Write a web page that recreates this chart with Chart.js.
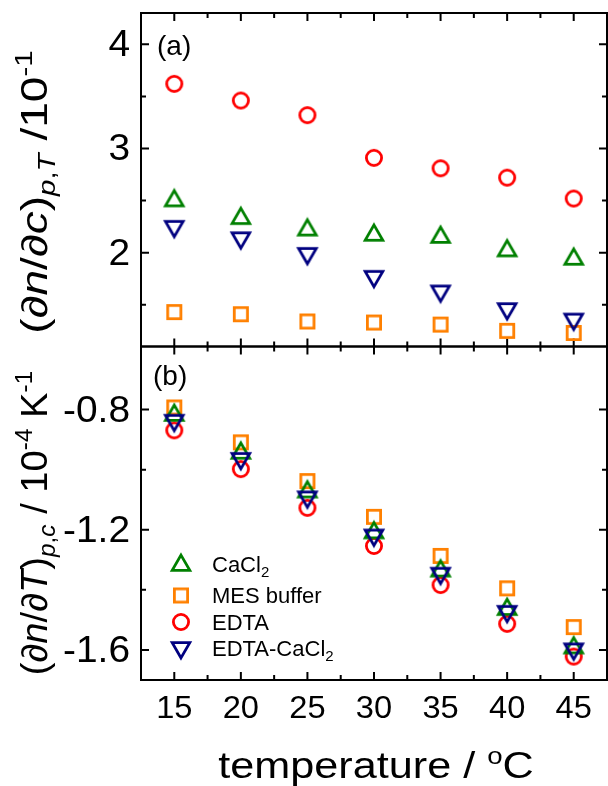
<!DOCTYPE html>
<html>
<head>
<meta charset="utf-8">
<script src="https://cdn.jsdelivr.net/npm/chart.js@4.4.0/dist/chart.umd.min.js"></script>
<style>
  html, body { margin: 0; padding: 0; background: #fff; }
  #wrap { position: relative; width: 608px; height: 786px; }
</style>
</head>
<body>
<div id="wrap"><canvas id="chart" width="608" height="786"></canvas></div>
<script>
// temperatures in degrees C
const temperatures = [15, 20, 25, 30, 35, 40, 45];

// (dn/dc)_{p,T} in units of 10^-1
const dcCaCl2 = [2.53, 2.36, 2.25, 2.20, 2.18, 2.05, 1.97];
const dcMes = [1.43, 1.41, 1.34, 1.33, 1.31, 1.25, 1.23];
const dcEdta = [3.62, 3.46, 3.32, 2.91, 2.81, 2.72, 2.52];
const dcEdtaCa = [2.22, 2.11, 1.96, 1.74, 1.60, 1.43, 1.33];

// (dn/dT)_{p,c} in units of 10^-4 K^-1
const dtCaCl2 = [-0.808, -0.934, -1.063, -1.199, -1.326, -1.454, -1.582];
const dtMes = [-0.793, -0.909, -1.038, -1.157, -1.287, -1.395, -1.524];
const dtEdta = [-0.869, -0.998, -1.127, -1.254, -1.384, -1.513, -1.622];
const dtEdtaCa = [-0.847, -0.974, -1.102, -1.229, -1.356, -1.483, -1.608];

// ticks
const xMajor = [15, 20, 25, 30, 35, 40, 45];
const xMinor = [17.5, 22.5, 27.5, 32.5, 37.5, 42.5];
const dcMajor = [2, 3, 4];
const dcMinor = [1.5, 2.5, 3.5];
const dtMajor = [-0.8, -1.2, -1.6];
const dtMinor = [-1.0, -1.4];
const dcLabels = ['2', '3', '4'];
const dtLabels = ['-0.8', '-1.2', '-1.6'];

const FONT = '"Liberation Sans", Arial, sans-serif';
const RED = '#ff0000', GREEN = '#008000', ORANGE = '#ff8000', NAVY = '#000080';

// hollow marker sprites, centred on their bounding box
function makeMarker(kind, color) {
  const size = 28, m = size / 2, lw = 2.8;
  const c = document.createElement('canvas');
  c.width = c.height = size;
  const g = c.getContext('2d');
  g.strokeStyle = color;
  g.lineWidth = lw;
  g.lineJoin = 'miter';
  g.beginPath();
  if (kind === 'circle') {
    g.arc(m, m, 7.6, 0, Math.PI * 2);
  } else if (kind === 'square') {
    g.rect(m - 6.6, m - 6.6, 13.2, 13.2);
  } else {
    const w = 17.6, h = 15.2;
    if (kind === 'up') {
      const top = m - h / 2 + lw / 4;
      g.moveTo(m, top);
      g.lineTo(m + w / 2, top + h);
      g.lineTo(m - w / 2, top + h);
    } else {
      const bot = m + h / 2 - lw / 4;
      g.moveTo(m, bot);
      g.lineTo(m + w / 2, bot - h);
      g.lineTo(m - w / 2, bot - h);
    }
    g.closePath();
  }
  g.stroke();
  return c;
}

const mkUp = makeMarker('up', GREEN);
const mkSquare = makeMarker('square', ORANGE);
const mkCircle = makeMarker('circle', RED);
const mkDown = makeMarker('down', NAVY);

function points(ys) {
  return temperatures.map((t, i) => ({ x: t, y: ys[i] }));
}

// sprite markers ignore the radius; keep it small so it adds no layout padding
function series(label, ys, axis, marker, order) {
  return {
    label: label,
    data: points(ys),
    yAxisID: axis,
    pointStyle: marker,
    pointRadius: 1,
    pointHoverRadius: 1,
    pointBorderWidth: 0,
    showLine: false,
    clip: false,
    order: order
  };
}

function fontOf(size, italic) {
  return (italic ? 'italic ' : '') + size + 'px ' + FONT;
}

// draws a run of text pieces (sub/superscripts, italics) as one line
function drawRich(ctx, parts, x, y, align, rotate, sx) {
  ctx.save();
  ctx.translate(x, y);
  if (rotate) ctx.rotate(rotate);
  ctx.scale(sx || 1, 1);
  ctx.textAlign = 'left';
  ctx.textBaseline = 'alphabetic';
  ctx.fillStyle = '#000';
  let w = 0;
  parts.forEach(p => {
    ctx.font = fontOf(p.s, p.i);
    w += ctx.measureText(p.t).width;
  });
  let cx = align === 'center' ? -w / 2 : align === 'right' ? -w : 0;
  parts.forEach(p => {
    ctx.font = fontOf(p.s, p.i);
    ctx.fillText(p.t, cx, p.dy || 0);
    cx += ctx.measureText(p.t).width;
  });
  ctx.restore();
}

const panelFrames = {
  id: 'panelFrames',
  beforeDatasetsDraw(chart) {
    const ctx = chart.ctx;
    const x = chart.scales.x;
    const panels = [[chart.scales.yDc, dcMajor, dcMinor], [chart.scales.yDt, dtMajor, dtMinor]];
    ctx.save();
    ctx.strokeStyle = '#000';
    ctx.lineWidth = 2;
    panels.forEach(([y, major, minor]) => {
      const L = x.left, R = x.right, T = y.top, B = y.bottom;
      ctx.strokeRect(L, T, R - L, B - T);
      ctx.beginPath();
      const xt = (v, len) => {
        const px = x.getPixelForValue(v);
        ctx.moveTo(px, T); ctx.lineTo(px, T + len);
        ctx.moveTo(px, B); ctx.lineTo(px, B - len);
      };
      const yt = (v, len) => {
        const py = y.getPixelForValue(v);
        ctx.moveTo(L, py); ctx.lineTo(L + len, py);
        ctx.moveTo(R, py); ctx.lineTo(R - len, py);
      };
      xMajor.forEach(v => xt(v, 8));
      xMinor.forEach(v => xt(v, 5));
      major.forEach(v => yt(v, 8));
      minor.forEach(v => yt(v, 5));
      ctx.stroke();
    });
    ctx.restore();
  },
  afterDraw(chart) {
    const ctx = chart.ctx;
    const x = chart.scales.x, yDc = chart.scales.yDc, yDt = chart.scales.yDt;

    // tick labels
    dcMajor.forEach((v, i) => {
      drawRich(ctx, [{ t: dcLabels[i], s: 36 }], 130, yDc.getPixelForValue(v) + 12, 'right', 0, 1.08);
    });
    dtMajor.forEach((v, i) => {
      drawRich(ctx, [{ t: dtLabels[i], s: 36 }], 130, yDt.getPixelForValue(v) + 12, 'right', 0, 1.08);
    });
    xMajor.forEach(v => {
      drawRich(ctx, [{ t: String(v), s: 32 }], x.getPixelForValue(v), 718, 'center', 0, 1.02);
    });

    // axis titles
    drawRich(ctx, [
      { t: '(\u2202', s: 36 }, { t: 'n', s: 36, i: true }, { t: '/\u2202', s: 36 }, { t: 'c', s: 36, i: true }, { t: ')', s: 36 },
      { t: 'p', s: 23, i: true, dy: 8 }, { t: ',', s: 23, dy: 8 }, { t: 'T', s: 23, i: true, dy: 8 },
      { t: ' /10', s: 36 }, { t: '-1', s: 23, dy: -15 }
    ], 47, 192, 'center', -Math.PI / 2, 1.28);
    drawRich(ctx, [
      { t: '(\u2202', s: 36 }, { t: 'n', s: 36, i: true }, { t: '/\u2202', s: 36 }, { t: 'T', s: 36, i: true }, { t: ')', s: 36 },
      { t: 'p', s: 23, i: true, dy: 8 }, { t: ',', s: 23, dy: 8 }, { t: 'c', s: 23, i: true, dy: 8 },
      { t: ' / 10', s: 36 }, { t: '-4', s: 23, dy: -15 }, { t: ' K', s: 36 }, { t: '-1', s: 23, dy: -15 }
    ], 47, 523, 'center', -Math.PI / 2, 1.06);
    drawRich(ctx, [
      { t: 'temperature / ', s: 36 }, { t: 'o', s: 23, dy: -14 }, { t: 'C', s: 36 }
    ], 376, 778, 'center', 0, 1.2);

    // panel letters
    drawRich(ctx, [{ t: '(a)', s: 28 }], 157, 55, 'left', 0, 1);
    drawRich(ctx, [{ t: '(b)', s: 28 }], 153, 385, 'left', 0, 1);

    // legend
    const rows = [
      [mkUp, 562, [{ t: 'CaCl', s: 22 }, { t: '2', s: 15, dy: 5 }], 572],
      [mkSquare, 595.5, [{ t: 'MES buffer', s: 22 }], 603],
      [mkCircle, 622, [{ t: 'EDTA', s: 22 }], 629.5],
      [mkDown, 651, [{ t: 'EDTA-CaCl', s: 22 }, { t: '2', s: 15, dy: 5 }], 655.5]
    ];
    rows.forEach(([mk, cy, parts, base]) => {
      ctx.drawImage(mk, 181 - mk.width / 2, cy - mk.height / 2);
      drawRich(ctx, parts, 212, base, 'left', 0, 1);
    });
  }
};

new Chart(document.getElementById('chart'), {
  type: 'scatter',
  data: {
    datasets: [
      series('EDTA-CaCl2', dcEdtaCa, 'yDc', mkDown, 0),
      series('CaCl2', dcCaCl2, 'yDc', mkUp, 1),
      series('EDTA', dcEdta, 'yDc', mkCircle, 2),
      series('MES buffer', dcMes, 'yDc', mkSquare, 3),
      series('EDTA-CaCl2', dtEdtaCa, 'yDt', mkDown, 0),
      series('CaCl2', dtCaCl2, 'yDt', mkUp, 1),
      series('EDTA', dtEdta, 'yDt', mkCircle, 2),
      series('MES buffer', dtMes, 'yDt', mkSquare, 3)
    ]
  },
  options: {
    responsive: false,
    animation: false,
    devicePixelRatio: 1,
    layout: { padding: { left: 141, right: 1, top: 13, bottom: 106 } },
    scales: {
      x: { type: 'linear', min: 12.5, max: 47.5, display: false },
      yDt: { type: 'linear', min: -1.7, max: -0.59, display: false, position: 'left', stack: 'panels', stackWeight: 1 },
      yDc: { type: 'linear', min: 1.1, max: 4.3, display: false, position: 'left', stack: 'panels', stackWeight: 1 }
    },
    plugins: {
      legend: { display: false },
      tooltip: { enabled: false }
    }
  },
  plugins: [panelFrames]
});
</script>
</body>
</html>
